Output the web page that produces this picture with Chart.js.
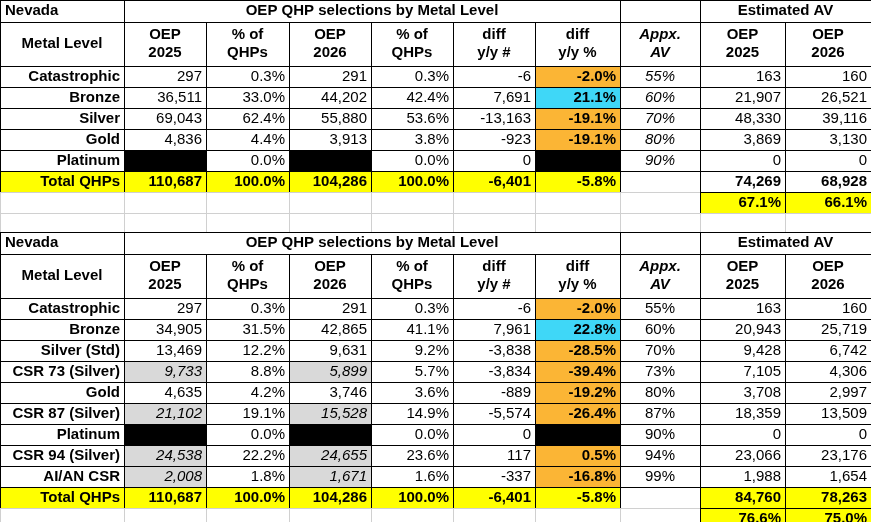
<!DOCTYPE html>
<html><head><meta charset="utf-8">
<script src="https://cdn.jsdelivr.net/npm/chart.js@4"></script>
<style>body{margin:0;background:#fff}canvas{display:block}</style>
</head><body>
<canvas id="myChart" width="871" height="522"></canvas>
<script>
// table 1
const levels1 = ["Catastrophic", "Bronze", "Silver", "Gold", "Platinum"];
const oep2025_1 = [297, 36511, 69043, 4836, null];
const pct2025_1 = [0.3, 33.0, 62.4, 4.4, 0.0];
const oep2026_1 = [291, 44202, 55880, 3913, null];
const pct2026_1 = [0.3, 42.4, 53.6, 3.8, 0.0];
const diff_1 = [-6, 7691, -13163, -923, 0];
const diffPct_1 = [-2.0, 21.1, -19.1, -19.1, null];
const av_1 = [55, 60, 70, 80, 90];
const est2025_1 = [163, 21907, 48330, 3869, 0];
const est2026_1 = [160, 26521, 39116, 3130, 0];
const totals_1 = [110687, 100.0, 104286, 100.0, -6401, -5.8];
const estTotals_1 = [74269, 68928];
const estShare_1 = [67.1, 66.1];

// table 2
const levels2 = ["Catastrophic", "Bronze", "Silver (Std)", "CSR 73 (Silver)", "Gold", "CSR 87 (Silver)", "Platinum", "CSR 94 (Silver)", "AI/AN CSR"];
const oep2025_2 = [297, 34905, 13469, 9733, 4635, 21102, null, 24538, 2008];
const pct2025_2 = [0.3, 31.5, 12.2, 8.8, 4.2, 19.1, 0.0, 22.2, 1.8];
const oep2026_2 = [291, 42865, 9631, 5899, 3746, 15528, null, 24655, 1671];
const pct2026_2 = [0.3, 41.1, 9.2, 5.7, 3.6, 14.9, 0.0, 23.6, 1.6];
const diff_2 = [-6, 7961, -3838, -3834, -889, -5574, 0, 117, -337];
const diffPct_2 = [-2.0, 22.8, -28.5, -39.4, -19.2, -26.4, null, 0.5, -16.8];
const av_2 = [55, 60, 70, 73, 80, 87, 90, 94, 99];
const est2025_2 = [163, 20943, 9428, 7105, 3708, 18359, 0, 23066, 1988];
const est2026_2 = [160, 25719, 6742, 4306, 2997, 13509, 0, 23176, 1654];
const totals_2 = [110687, 100.0, 104286, 100.0, -6401, -5.8];
const estTotals_2 = [84760, 78263];
const estShare_2 = [76.6, 75.0];

const colEdges = [0, 124, 206, 289, 371, 453, 535, 620, 700, 785, 871];
const num = v => v.toLocaleString("en-US");
const pct = v => v.toFixed(1) + "%";

const tablePlugin = {
  id: "table",
  afterDraw(chart) {
    const c = chart.ctx, xs = chart.scales.x, ys = chart.scales.y;
    const X = v => xs.getPixelForValue(v), Y = v => ys.getPixelForValue(v);
    function cell(c0, c1, y0, y1, text, o = {}) {
      const x0 = X(colEdges[c0]), x1 = X(colEdges[c1]), t = Y(y0), b = Y(y1);
      if (o.bg) { c.fillStyle = o.bg; c.fillRect(x0, t, x1 - x0, b - t); }
      c.strokeStyle = o.grid ? "#d0d0d0" : "#000"; c.lineWidth = 1;
      c.strokeRect(x0 + 0.5, t + 0.5, x1 - x0, b - t);
      if (text == null || text === "") return;
      c.fillStyle = "#000";
      c.font = (o.italic ? "italic " : "") + (o.bold ? "bold " : "") + "15px 'Liberation Sans', Arial";
      const lines = String(text).split("\n");
      const al = o.align || "right";
      c.textAlign = al; c.textBaseline = "middle";
      const tx = al === "right" ? x1 - 4 : al === "left" ? x0 + 5 : (x0 + x1) / 2;
      const mid = (t + b) / 2, lh = 18;
      lines.forEach((l, i) => c.fillText(l, tx, mid + (i - (lines.length - 1) / 2) * lh));
    }
    function table(top, levels, o25, p25, o26, p26, d, dp, av, e25, e26, tot, etot, eshare, t2) {
      const heads = ["OEP\n2025", "% of\nQHPs", "OEP\n2026", "% of\nQHPs", "diff\ny/y #", "diff\ny/y %"];
      cell(0, 1, top, top + 22, "Nevada", { bold: true, align: "left" });
      cell(1, 7, top, top + 22, "OEP QHP selections by Metal Level", { bold: true, align: "center" });
      cell(7, 8, top, top + 22, "");
      cell(8, 10, top, top + 22, "Estimated AV", { bold: true, align: "center" });
      const h2 = top + 22, h2b = h2 + 44;
      cell(0, 1, h2, h2b, "Metal Level", { bold: true, align: "center" });
      heads.forEach((h, i) => cell(i + 1, i + 2, h2, h2b, h, { bold: true, align: "center" }));
      cell(7, 8, h2, h2b, "Appx.\nAV", { bold: true, italic: true, align: "center" });
      cell(8, 9, h2, h2b, "OEP\n2025", { bold: true, align: "center" });
      cell(9, 10, h2, h2b, "OEP\n2026", { bold: true, align: "center" });
      let y = h2b;
      levels.forEach((lv, i) => {
        const y1 = y + 21, csr = t2 && /CSR/.test(lv);
        const blk = o25[i] == null;
        cell(0, 1, y, y1, lv, { bold: true });
        cell(1, 2, y, y1, blk ? "" : num(o25[i]), { bg: blk ? "#000" : csr ? "#d9d9d9" : null, italic: csr });
        cell(2, 3, y, y1, pct(p25[i]));
        cell(3, 4, y, y1, blk ? "" : num(o26[i]), { bg: blk ? "#000" : csr ? "#d9d9d9" : null, italic: csr });
        cell(4, 5, y, y1, pct(p26[i]));
        cell(5, 6, y, y1, num(d[i]));
        cell(6, 7, y, y1, dp[i] == null ? "" : pct(dp[i]),
          { bold: true, bg: dp[i] == null ? "#000" : dp[i] > 10 ? "#3fd7f7" : "#fbb535" });
        cell(7, 8, y, y1, av[i] + "%", { italic: !t2, align: "center" });
        cell(8, 9, y, y1, num(e25[i]));
        cell(9, 10, y, y1, num(e26[i]));
        y = y1;
      });
      const y1 = y + 21, Yl = "#ffff00";
      cell(0, 1, y, y1, "Total QHPs", { bold: true, bg: Yl });
      tot.forEach((v, i) => cell(i + 1, i + 2, y, y1, i % 2 ? pct(v) : num(v), { bold: true, bg: Yl }));
      cell(7, 8, y, y1, "");
      cell(8, 9, y, y1, num(etot[0]), { bold: true, bg: t2 ? Yl : null });
      cell(9, 10, y, y1, num(etot[1]), { bold: true, bg: t2 ? Yl : null });
      const y2 = y1 + 21;
      for (let k = 0; k < 8; k++) cell(k, k + 1, y1, y2, "", { grid: true });
      cell(8, 9, y1, y2, pct(eshare[0]), { bold: true, bg: Yl });
      cell(9, 10, y1, y2, pct(eshare[1]), { bold: true, bg: Yl });
      return y2;
    }
    c.save();
    const end = table(0, levels1, oep2025_1, pct2025_1, oep2026_1, pct2026_1, diff_1, diffPct_1, av_1,
      est2025_1, est2026_1, totals_1, estTotals_1, estShare_1, false);
    for (let k = 0; k < 10; k++) cell(k, k + 1, end, 232, "", { grid: true });
    table(232, levels2, oep2025_2, pct2025_2, oep2026_2, pct2026_2, diff_2, diffPct_2, av_2,
      est2025_2, est2026_2, totals_2, estTotals_2, estShare_2, true);
    c.restore();
  }
};

new Chart(document.getElementById("myChart").getContext("2d"), {
  type: "scatter",
  data: { datasets: [{ data: [] }] },
  options: {
    responsive: false, animation: false,
    layout: { padding: 0 },
    plugins: { legend: { display: false }, tooltip: { enabled: false } },
    scales: {
      x: { type: "linear", min: 0, max: 871, display: false },
      y: { type: "linear", min: 0, max: 522, reverse: true, display: false }
    }
  },
  plugins: [tablePlugin]
});
</script>
</body></html>
